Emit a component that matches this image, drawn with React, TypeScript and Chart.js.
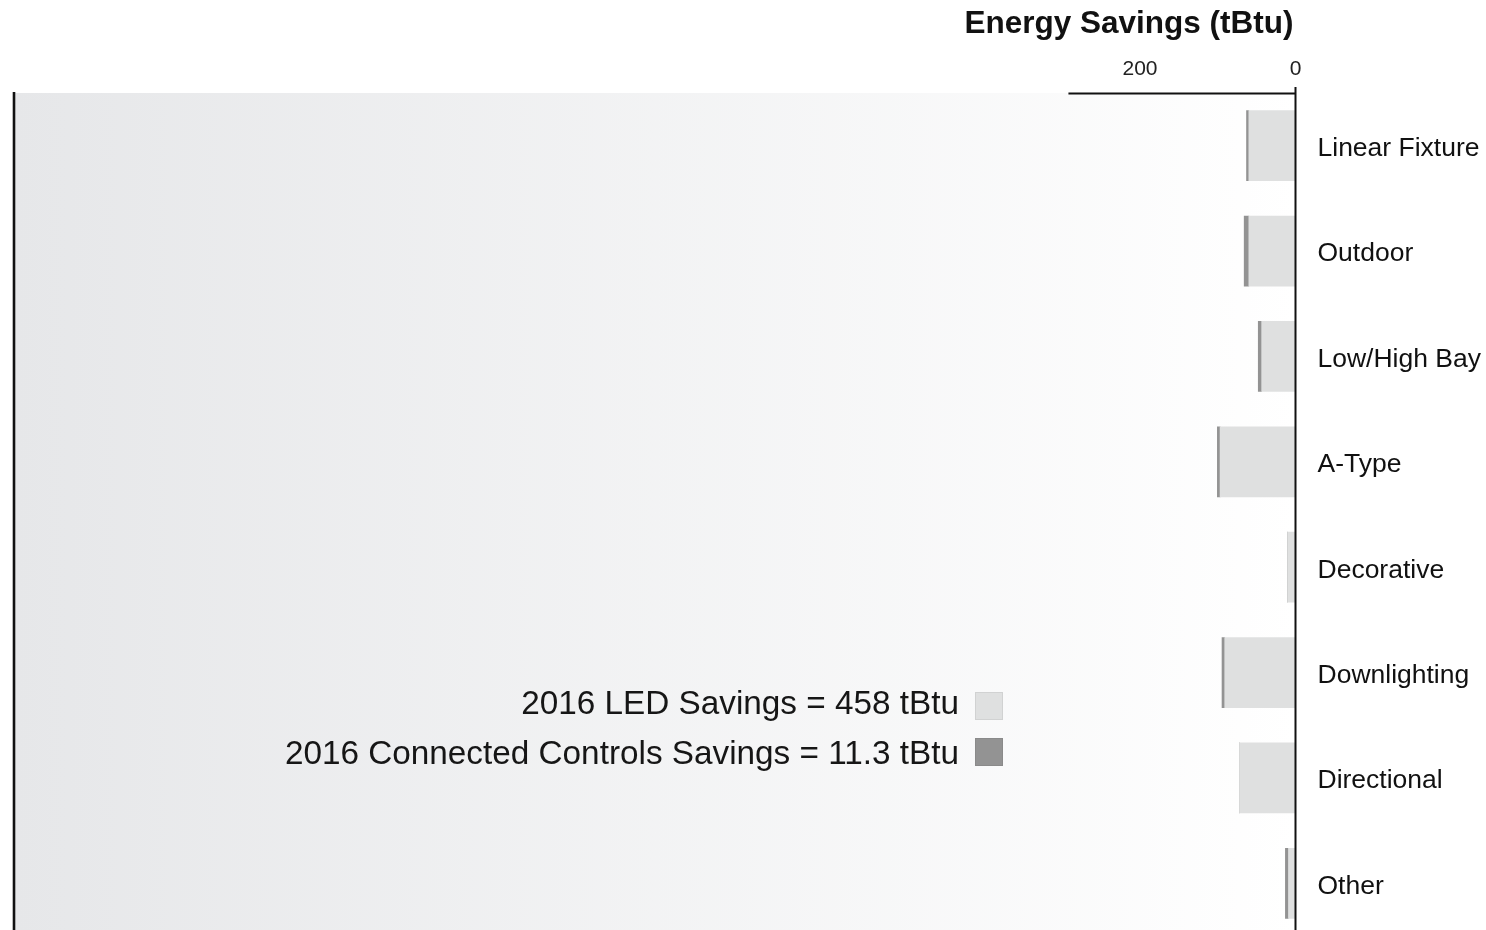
import React, { useEffect, useRef } from 'react';
import { Chart, registerables } from 'chart.js';

Chart.register(...registerables);

// ---- data ----
const categories = [
  'Linear Fixture',
  'Outdoor',
  'Low/High Bay',
  'A-Type',
  'Decorative',
  'Downlighting',
  'Directional',
  'Other',
];
const ledSavings = [60, 60, 43.5, 97, 10, 91, 72, 9];
const controlsSavings = [3, 6, 4.4, 3.5, 0, 3.5, 0, 4];
const tickValues = [0, 200];
const axisLineMax = 292;
const xScaleMax = 1648;
const titleText = 'Energy Savings (tBtu)';
const legendLabels = [
  '2016 LED Savings = 458 tBtu',
  '2016 Connected Controls Savings = 11.3 tBtu',
];

const FONT = '"Liberation Sans", Arial, Helvetica, sans-serif';
const LED_COLOR = '#dfe0e0';
const CTRL_COLOR = '#939393';

const decorPlugin = {
  id: 'decor',
  beforeDraw(chart: any) {
    const { ctx, chartArea: a } = chart;
    const g = ctx.createLinearGradient(a.left, 0, a.right, 0);
    g.addColorStop(0, '#e6e7e9');
    g.addColorStop(1, '#ffffff');
    ctx.save();
    ctx.fillStyle = g;
    ctx.fillRect(a.left, a.top, a.right - a.left, a.bottom - a.top);
    ctx.restore();
  },
  afterDraw(chart: any) {
    const { ctx, chartArea: a, scales } = chart;
    const xs = scales.x;
    const x0 = xs.getPixelForValue(0);
    const x1 = xs.getPixelForValue(axisLineMax);
    ctx.save();
    ctx.strokeStyle = '#111111';
    // left border
    ctx.lineWidth = 2.6;
    ctx.beginPath();
    ctx.moveTo(a.left, a.top - 1);
    ctx.lineTo(a.left, a.bottom);
    ctx.stroke();
    // top axis line
    ctx.lineWidth = 2;
    ctx.beginPath();
    ctx.moveTo(x1, a.top + 0.5);
    ctx.lineTo(x0, a.top + 0.5);
    ctx.stroke();
    // vertical zero line
    ctx.beginPath();
    ctx.moveTo(x0, a.top - 6);
    ctx.lineTo(x0, a.bottom);
    ctx.stroke();
    // title
    ctx.fillStyle = '#111111';
    ctx.font = `bold 31.5px ${FONT}`;
    ctx.textAlign = 'right';
    ctx.textBaseline = 'alphabetic';
    ctx.fillText(titleText, x0 - 2, 33);
    // legend
    const colors = [LED_COLOR, CTRL_COLOR];
    const boxTops = [692, 738];
    const baselines = [714, 764];
    const boxRight = 1003;
    const boxSize = 28;
    ctx.font = `33.3px ${FONT}`;
    for (let i = 0; i < legendLabels.length; i++) {
      ctx.fillStyle = colors[i];
      ctx.fillRect(boxRight - boxSize, boxTops[i], boxSize, boxSize);
      ctx.strokeStyle = 'rgba(0,0,0,0.06)';
      ctx.lineWidth = 1;
      ctx.strokeRect(boxRight - boxSize + 0.5, boxTops[i] + 0.5, boxSize - 1, boxSize - 1);
      ctx.fillStyle = '#161616';
      ctx.textAlign = 'right';
      ctx.fillText(legendLabels[i], boxRight - boxSize - 16, baselines[i]);
    }
    ctx.restore();
  },
};

export default function App() {
  const ref = useRef<HTMLCanvasElement | null>(null);

  useEffect(() => {
    if (!ref.current) return;
    const chart = new Chart(ref.current, {
      type: 'bar',
      data: {
        labels: categories,
        datasets: [
          {
            label: legendLabels[0],
            data: ledSavings,
            backgroundColor: LED_COLOR,
            barThickness: 70,
          },
          {
            label: legendLabels[1],
            data: controlsSavings,
            backgroundColor: CTRL_COLOR,
            barThickness: 70,
          },
        ],
      },
      options: {
        indexAxis: 'y',
        responsive: true,
        maintainAspectRatio: false,
        animation: false,
        devicePixelRatio: 1,
        layout: { padding: { left: 14, right: 0, top: 0, bottom: 4 } },
        plugins: {
          legend: { display: false },
          tooltip: { enabled: false },
          title: { display: false },
        },
        scales: {
          x: {
            type: 'linear',
            position: 'top',
            reverse: true,
            stacked: true,
            min: 0,
            max: xScaleMax,
            grid: { display: false, drawTicks: false },
            border: { display: false },
            ticks: {
              color: '#222222',
              padding: 11,
              font: { family: FONT, size: 21 },
            },
            afterBuildTicks: (scale: any) => {
              scale.ticks = tickValues.map((v) => ({ value: v }));
            },
            afterFit: (scale: any) => {
              scale.height = 93;
              scale.paddingLeft = 0;
              scale.paddingRight = 0;
            },
          },
          y: {
            type: 'category',
            position: 'right',
            stacked: true,
            grid: { display: false, drawTicks: false },
            border: { display: false },
            ticks: {
              color: '#111111',
              padding: 22,
              labelOffset: 3,
              font: { family: FONT, size: 26.5 },
            },
            afterFit: (scale: any) => {
              scale.width = 190.5;
              scale.paddingTop = 0;
              scale.paddingBottom = 0;
            },
          },
        },
      },
      plugins: [decorPlugin],
    });
    return () => chart.destroy();
  }, []);

  return (
    <div
      style={{
        position: 'fixed',
        left: 0,
        top: 0,
        width: 1486,
        height: 930,
        overflow: 'hidden',
        background: '#ffffff',
      }}
    >
      <div style={{ position: 'relative', width: 1486, height: 940 }}>
        <canvas ref={ref} />
      </div>
    </div>
  );
}
